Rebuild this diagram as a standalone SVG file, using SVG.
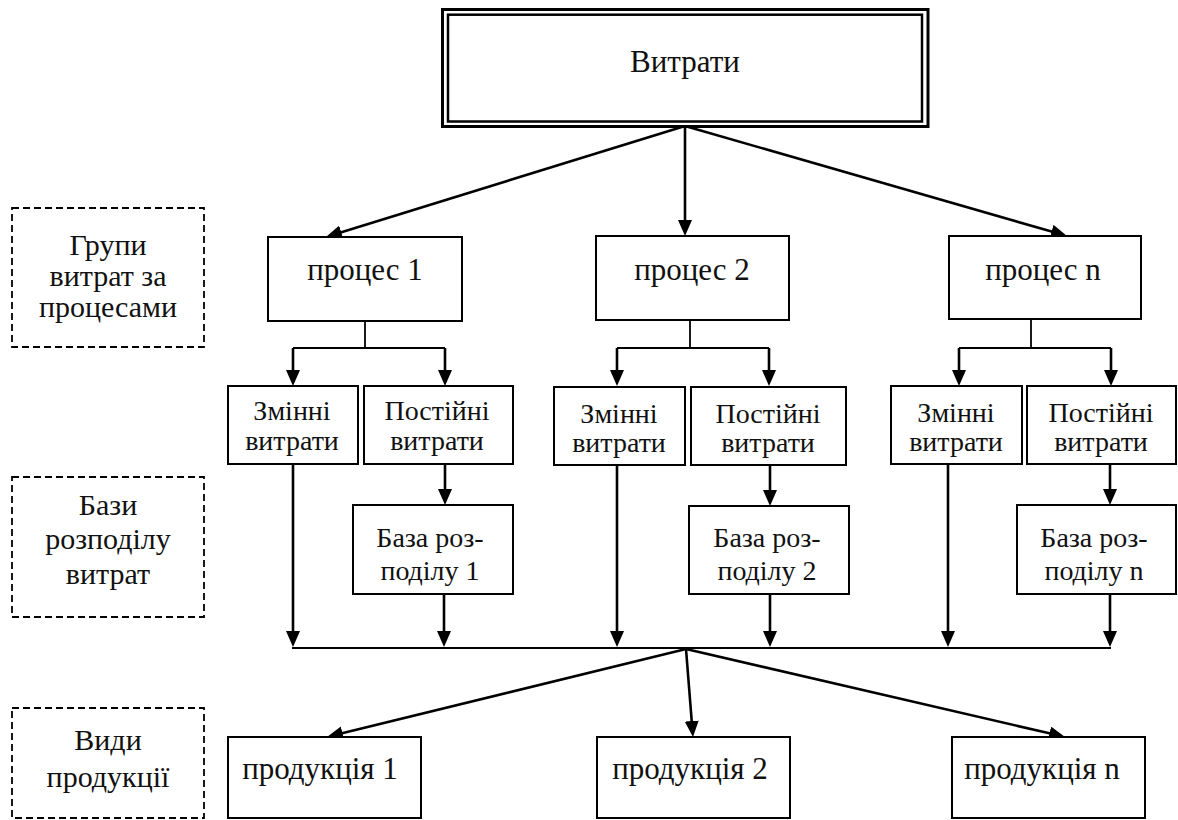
<svg xmlns="http://www.w3.org/2000/svg" width="1178" height="820" viewBox="0 0 1178 820">
<style>
  .box{fill:#fff;stroke:#000;stroke-width:2}
  .dash{fill:#fff;stroke:#000;stroke-width:1.8;stroke-dasharray:7 4}
  .ar{fill:none;stroke:#000;stroke-width:2.6;marker-end:url(#ah)}
  .thin{fill:none;stroke:#000;stroke-width:1.8}
</style>
<defs>
  <marker id="ah" markerUnits="userSpaceOnUse" markerWidth="16" markerHeight="14" refX="10" refY="7" orient="auto">
    <path d="M0,0 L16,7 L0,14 z" fill="#000"/>
  </marker>
</defs>
<rect width="1178" height="820" fill="#fff"/>

<g id="connectors">
  <line class="ar" x1="685" y1="126" x2="331.7" y2="235.2"/>
  <line class="ar" x1="685" y1="126" x2="685" y2="230"/>
  <line class="ar" x1="685" y1="126" x2="1061.2" y2="234.3"/>
  <line class="thin" x1="365" y1="321" x2="365" y2="348"/>
  <line class="thin" x1="293" y1="348" x2="445" y2="348"/>
  <line class="ar" x1="293" y1="348" x2="293" y2="380"/>
  <line class="ar" x1="445" y1="348" x2="445" y2="380"/>
  <line class="thin" x1="690" y1="320" x2="690" y2="348"/>
  <line class="thin" x1="617" y1="348" x2="769" y2="348"/>
  <line class="ar" x1="617" y1="348" x2="617" y2="380"/>
  <line class="ar" x1="769" y1="348" x2="769" y2="380"/>
  <line class="thin" x1="1031" y1="319" x2="1031" y2="348"/>
  <line class="thin" x1="959" y1="348" x2="1111" y2="348"/>
  <line class="ar" x1="959" y1="348" x2="959" y2="380"/>
  <line class="ar" x1="1111" y1="348" x2="1111" y2="380"/>
  <line class="ar" x1="293" y1="465" x2="293" y2="641"/>
  <line class="ar" x1="445" y1="465" x2="445" y2="499"/>
  <line class="ar" x1="444" y1="594" x2="444" y2="641"/>
  <line class="ar" x1="617" y1="465" x2="617" y2="641"/>
  <line class="ar" x1="770" y1="465" x2="770" y2="500"/>
  <line class="ar" x1="770" y1="594" x2="770" y2="641"/>
  <line class="ar" x1="948" y1="465" x2="948" y2="641"/>
  <line class="ar" x1="1110" y1="465" x2="1110" y2="499"/>
  <line class="ar" x1="1110" y1="594" x2="1110" y2="641"/>
  <line class="thin" x1="292" y1="648" x2="1111" y2="648"/>
  <line class="ar" x1="686" y1="649" x2="332.8" y2="735.6"/>
  <line class="ar" x1="686" y1="649" x2="692.5" y2="731"/>
  <line class="ar" x1="686" y1="649" x2="1059.2" y2="735.6"/>
</g>

<g font-family="Liberation Serif, Times New Roman, serif" fill="#111" text-anchor="middle">
<g id="n-vytraty">
  <rect x="442.5" y="9.5" width="485.5" height="117" fill="#fff" stroke="#000" stroke-width="3"/>
  <rect x="448" y="14.7" width="474" height="106.8" fill="none" stroke="#000" stroke-width="2.5"/>
  <text font-size="31" x="685" y="72">Витрати</text>
</g>

<g id="n-label-grupy" font-size="30">
  <rect class="dash" x="12" y="208" width="192" height="139"/>
  <text x="108" y="255">Групи</text>
  <text x="108" y="286">витрат за</text>
  <text x="108" y="317">процесами</text>
</g>
<g id="n-label-bazy" font-size="30">
  <rect class="dash" x="12" y="477" width="192" height="140"/>
  <text x="108" y="515">Бази</text>
  <text x="108" y="549">розподілу</text>
  <text x="108" y="584">витрат</text>
</g>
<g id="n-label-vydy" font-size="30">
  <rect class="dash" x="12" y="708" width="192" height="110"/>
  <text x="108" y="750">Види</text>
  <text x="108" y="787">продукції</text>
</g>

<g id="n-proces1" font-size="31">
  <rect class="box" x="268" y="237" width="194" height="84"/>
  <text x="365" y="280">процес 1</text>
</g>
<g id="n-proces2" font-size="31">
  <rect class="box" x="596" y="236" width="193" height="84"/>
  <text x="692" y="280">процес 2</text>
</g>
<g id="n-procesn" font-size="31">
  <rect class="box" x="949" y="236" width="192" height="83"/>
  <text x="1043" y="280">процес n</text>
</g>

<g id="n-zminni1" font-size="28">
  <rect class="box" x="228" y="386" width="130" height="78"/>
  <text x="292" y="420">Змінні</text>
  <text x="292" y="450">витрати</text>
</g>
<g id="n-postiini1" font-size="28">
  <rect class="box" x="364" y="386" width="149" height="78"/>
  <text x="437" y="420">Постійні</text>
  <text x="437" y="450">витрати</text>
</g>
<g id="n-zminni2" font-size="28">
  <rect class="box" x="554" y="387" width="131" height="78"/>
  <text x="619" y="423">Змінні</text>
  <text x="619" y="452">витрати</text>
</g>
<g id="n-postiini2" font-size="28">
  <rect class="box" x="691" y="387" width="155" height="78"/>
  <text x="768" y="423">Постійні</text>
  <text x="768" y="452">витрати</text>
</g>
<g id="n-zminni3" font-size="28">
  <rect class="box" x="891" y="386" width="131" height="78"/>
  <text x="956" y="422">Змінні</text>
  <text x="956" y="451">витрати</text>
</g>
<g id="n-postiini3" font-size="28">
  <rect class="box" x="1027" y="386" width="149" height="78"/>
  <text x="1101" y="422">Постійні</text>
  <text x="1101" y="451">витрати</text>
</g>

<g id="n-baza1" font-size="28">
  <rect class="box" x="353" y="505" width="160" height="89"/>
  <text x="430" y="547">База роз-</text>
  <text x="430" y="580">поділу 1</text>
</g>
<g id="n-baza2" font-size="28">
  <rect class="box" x="689" y="506" width="160" height="88"/>
  <text x="767" y="547">База роз-</text>
  <text x="767" y="580">поділу 2</text>
</g>
<g id="n-bazan" font-size="28">
  <rect class="box" x="1017" y="505" width="159" height="89"/>
  <text x="1094" y="547">База роз-</text>
  <text x="1094" y="580">поділу n</text>
</g>

<g id="n-prod1" font-size="31">
  <rect class="box" x="228" y="737" width="193" height="81"/>
  <text x="320" y="779">продукція 1</text>
</g>
<g id="n-prod2" font-size="31">
  <rect class="box" x="597" y="737" width="193" height="81"/>
  <text x="690" y="779">продукція 2</text>
</g>
<g id="n-prodn" font-size="31">
  <rect class="box" x="952" y="737" width="193" height="81"/>
  <text x="1042" y="779">продукція n</text>
</g>
</g>
</svg>
